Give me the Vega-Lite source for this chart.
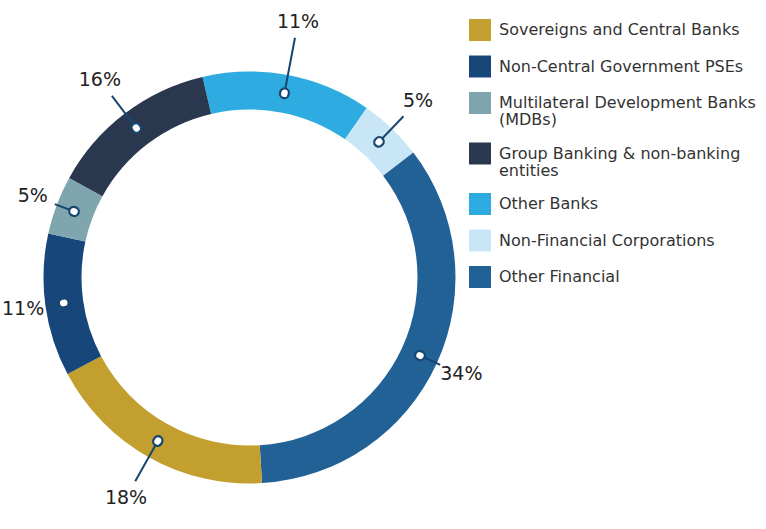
{
  "$schema": "https://vega.github.io/schema/vega-lite/v6.json",
  "width": 499,
  "height": 555,
  "autosize": {"type": "none"},
  "padding": {"left": 0, "top": 0, "right": 267, "bottom": -26},
  "background": "white",
  "data": {
    "values": [
      {"category": "Other Banks", "value": 13.3, "label": "11%"},
      {"category": "Non-Financial Corporations", "value": 5.0, "label": "5%"},
      {"category": "Other Financial", "value": 34.4, "label": "34%"},
      {"category": "Sovereigns and Central Banks", "value": 18.2, "label": "18%"},
      {"category": "Non-Central Government PSEs", "value": 11.2, "label": "11%"},
      {"category": "Multilateral Development Banks (MDBs)", "value": 4.6, "label": "5%"},
      {"category": "Group Banking & non-banking entities", "value": 13.3, "label": "16%"}
    ]
  },
  "transform": [{"window": [{"op": "row_number", "as": "idx"}]}],
  "encoding": {
    "theta": {"field": "value", "type": "quantitative", "stack": true, "scale": {"range": [-0.2304, 6.0528]}},
    "order": {"field": "idx", "type": "quantitative"}
  },
  "layer": [
    {
      "mark": {"type": "arc", "outerRadius": 206, "innerRadius": 168},
      "encoding": {
        "color": {
          "field": "category",
          "type": "nominal",
          "scale": {
            "domain": ["Sovereigns and Central Banks", "Non-Central Government PSEs", "Multilateral Development Banks (MDBs)", "Group Banking & non-banking entities", "Other Banks", "Non-Financial Corporations", "Other Financial"],
            "range": ["#C29F2E", "#16467A", "#7FA5AF", "#29374F", "#2EACE2", "#C9E6F7", "#226195"]
          },
          "legend": {
            "orient": "none",
            "legendX": 469,
            "legendY": 19,
            "title": null,
            "symbolType": "square",
            "symbolSize": 484,
            "symbolStrokeWidth": 0,
            "symbolOpacity": 1,
            "labelFont": "DejaVu Sans",
            "labelFontSize": 16,
            "labelColor": "#333333",
            "labelOffset": 8,
            "labelLimit": 400,
            "rowPadding": 14.5,
            "labelExpr": "datum.label == 'Multilateral Development Banks (MDBs)' ? ['Multilateral Development Banks', '(MDBs)'] : datum.label == 'Group Banking & non-banking entities' ? ['Group Banking & non-banking', 'entities'] : datum.label",
            "encode": {
              "labels": {"update": {"lineHeight": {"value": 17}}},
              "symbols": {"update": {"fill": {"signal": "datum.value === 'Sovereigns and Central Banks' ? '#C8A100' : scale('color', datum.value)"}}}
            }
          }
        }
      }
    },
    {
      "mark": {
        "type": "arc",
        "innerRadius": 188,
        "outerRadius": {"expr": "204*246/sqrt(pow(246*sin(scale('theta', 0.5*datum.value_start + 0.5*datum.value_end)),2) + pow(204*cos(scale('theta', 0.5*datum.value_start + 0.5*datum.value_end)),2))"},
        "padAngle": 3,
        "fillOpacity": 0,
        "stroke": "#174770",
        "strokeWidth": 2
      }
    },
    {
      "mark": {"type": "arc", "innerRadius": 187, "outerRadius": 188, "padAngle": 3, "fillOpacity": 0, "stroke": "#174770", "strokeWidth": 11, "strokeJoin": "round"}
    },
    {
      "mark": {"type": "arc", "innerRadius": 187, "outerRadius": 188, "padAngle": 3, "fillOpacity": 0, "stroke": "#ffffff", "strokeWidth": 6.5, "strokeJoin": "round"}
    },
    {
      "mark": {
        "type": "text",
        "radius": {"expr": "228*262/sqrt(pow(262*sin(scale('theta', 0.5*datum.value_start + 0.5*datum.value_end)),2) + pow(228*cos(scale('theta', 0.5*datum.value_start + 0.5*datum.value_end)),2))"},
        "font": "DejaVu Sans",
        "fontSize": 19,
        "color": "#222222",
        "align": "center",
        "baseline": "middle"
      },
      "encoding": {"text": {"field": "label"}}
    }
  ],
  "config": {"view": {"stroke": null}}
}
